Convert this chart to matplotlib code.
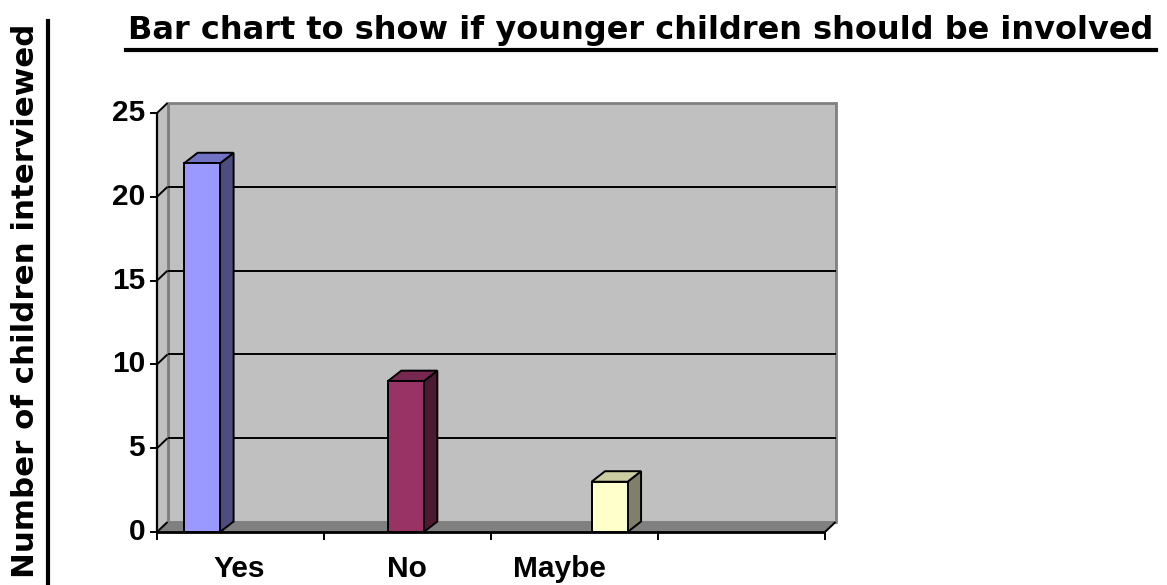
import matplotlib.pyplot as plt
from matplotlib.patches import Polygon
from matplotlib.lines import Line2D

categories = ["Yes", "No", "Maybe", ""]
answers = ["Yes", "No", "Maybe"]
counts = [22, 9, 3]
y_ticks = [0, 5, 10, 15, 20, 25]

front_colors = ["#9999FF", "#993366", "#FFFFCC"]
top_colors = ["#7373C6", "#772850", "#CCCCA3"]
side_colors = ["#4D4D80", "#4D1A33", "#80806A"]

W, H = 1167, 585
fig = plt.figure(figsize=(W / 100, H / 100), dpi=100)
fig.patch.set_facecolor("white")

# front plane of the 3d box: x 157..825 px, y 532..113 px
ax = fig.add_axes([157 / W, (H - 532) / H, 668 / W, 419 / H])
ax.set_xlim(0, 4)
ax.set_ylim(0, 25)
ax.axis("off")

px_x = 4 / 668
px_y = 25 / 419
wdx, wdy = 10.5 * px_x, 10 * px_y   # wall depth
bdx, bdy = 13.5 * px_x, 10.5 * px_y  # bar depth
bar_w = 36 * px_x

def poly(pts, fc, ec="black", lw=1.4, z=2):
    ax.add_patch(Polygon(pts, closed=True, facecolor=fc, edgecolor=ec,
                         linewidth=lw, zorder=z, clip_on=False,
                         joinstyle="miter"))

def line(xs, ys, color="black", lw=1.4, z=3):
    ax.add_line(Line2D(xs, ys, color=color, linewidth=lw, zorder=z,
                       clip_on=False, solid_capstyle="butt"))

# walls and floor
poly([(wdx, wdy), (4 + wdx, wdy), (4 + wdx, 25 + wdy), (wdx, 25 + wdy)],
     "#C0C0C0", ec="#808080", lw=2, z=1)
poly([(0, 0), (wdx, wdy), (wdx, 25 + wdy), (0, 25)], "#C0C0C0",
     ec="none", z=1)
line([wdx, wdx], [wdy, 25 + wdy], color="#808080", lw=2, z=1.5)
poly([(0, 0), (4, 0), (4 + wdx, wdy), (wdx, wdy)], "#808080",
     ec="#808080", lw=1, z=1.6)

# gridlines on the back wall and the side wall
for v in y_ticks:
    if 0 < v < 25:
        line([wdx, 4 + wdx], [v + wdy, v + wdy], z=1.7)
    line([0, wdx], [v, v + wdy], z=1.7)
    line([-7 * px_x, 0], [v, v])
    ax.text(-12 * px_x, v, str(v), ha="right", va="center",
            fontsize=21.5, fontweight="bold", family="Liberation Sans")

# axes lines
line([0, 0], [0, 25], lw=1.6)
line([0, 4], [0, 0], lw=2)
line([4, 4 + wdx], [0, wdy], lw=1.4)
for i in range(len(categories) + 1):
    line([i, i], [0, -8 * px_y])
label_shift = [-1.5, -1, -15, 0]
for i, c in enumerate(categories):
    ax.text(i + 0.5 + label_shift[i] * px_x, -45 * px_y, c, ha="center",
            va="baseline", fontsize=21.5, fontweight="bold",
            family="Liberation Sans")

# bars
for i, (val, fc, tc, sc) in enumerate(zip(counts, front_colors,
                                          top_colors, side_colors)):
    x0 = 0.27 + 1.22 * i - bar_w / 2
    x1 = x0 + bar_w
    poly([(x1, 0), (x1 + bdx, bdy), (x1 + bdx, val + bdy), (x1, val)], sc, z=4)
    poly([(x0, val), (x1, val), (x1 + bdx, val + bdy), (x0 + bdx, val + bdy)],
         tc, z=4)
    poly([(x0, 0), (x1, 0), (x1, val), (x0, val)], fc, z=5)

title = fig.text(641 / W, 1 - 30 / H,
                 "Bar chart to show if younger children should be involved",
                 ha="center", va="center", fontsize=23, fontweight="bold",
                 family="DejaVu Sans")
ylab = fig.text(26 / W, 1 - 301 / H, "Number of children interviewed",
                ha="center", va="center", rotation=90, fontsize=22.2,
                fontweight="bold", family="DejaVu Sans")

# underline both texts
fig.canvas.draw()
r = fig.canvas.get_renderer()
tb = title.get_window_extent(r)
fig.add_artist(Line2D([(tb.x0 - 2) / W, (tb.x1 + 2) / W],
                      [(H - 50) / H, (H - 50) / H], color="black",
                      linewidth=3, transform=fig.transFigure))
yb = ylab.get_window_extent(r)
fig.add_artist(Line2D([48 / W, 48 / W], [0, (yb.y1 + 3) / H],
                      color="black", linewidth=3, transform=fig.transFigure))

fig.savefig("out.png", dpi=100)
